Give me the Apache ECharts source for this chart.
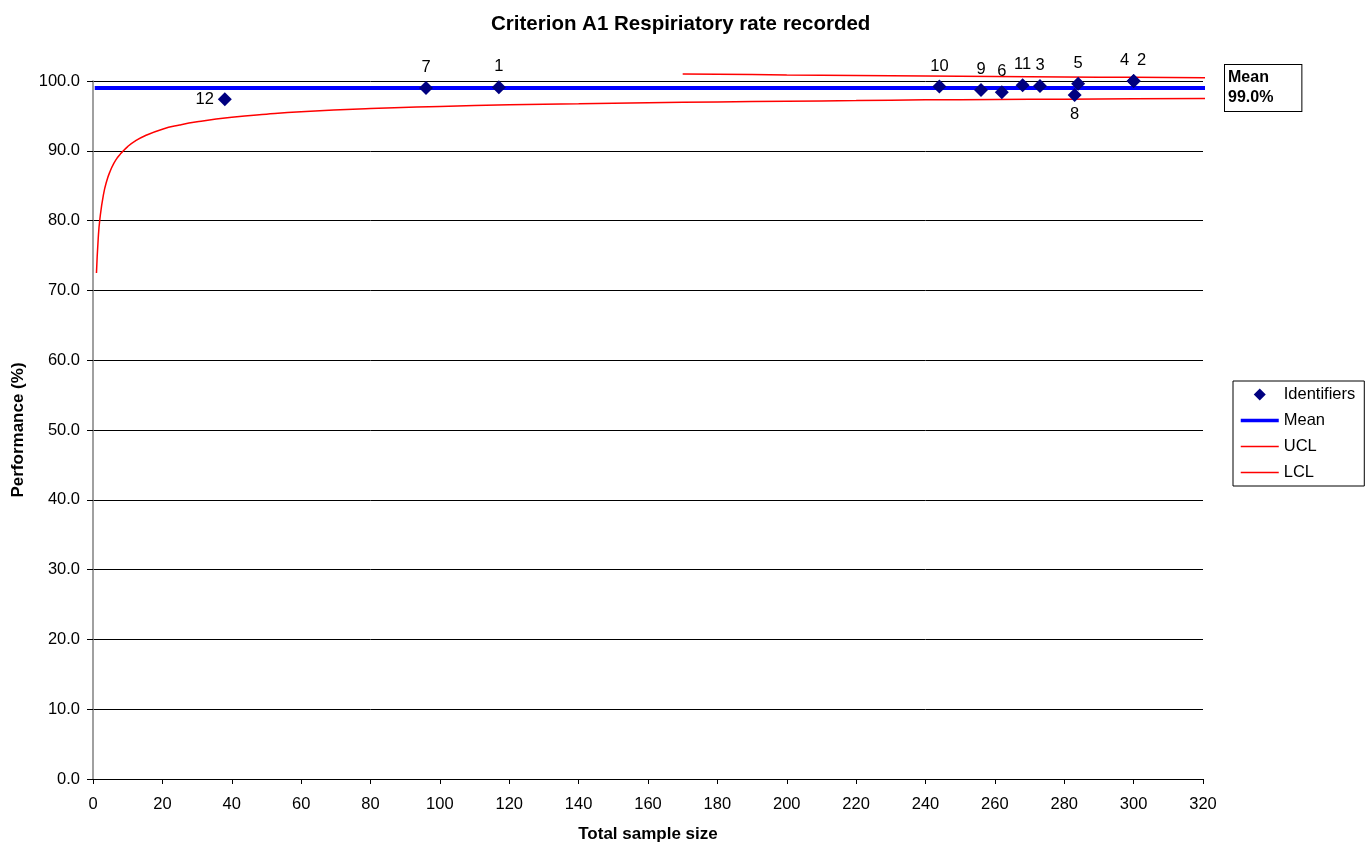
<!DOCTYPE html>
<html><head><meta charset="utf-8">
<script src="https://cdn.jsdelivr.net/npm/echarts@6/dist/echarts.min.js"></script>
<style>html,body{margin:0;padding:0;background:#fff}#c{width:1372px;height:848px}</style>
</head><body><div id="c"></div>
<script>
// Identifier points
const ids  = ['1','2','3','4','5','6','7','8','9','10','11','12'];
const sampleN = [117, 300, 273, 300, 284, 262, 96, 283, 256, 244, 268, 38];
const perf    = [99.1, 100.0, 99.3, 100.0, 99.6, 98.4, 99.0, 98.0, 98.7, 99.2, 99.4, 97.4];
// Mean line
const meanX = [0.5, 322];
const meanY = [99.0, 99.0];
// Lower control limit
const lclX = [1, 1.5, 2, 3, 4, 5, 6, 7, 8, 10, 12, 15, 20, 25, 30, 40, 50, 60, 80, 100, 120, 140, 160, 180, 200, 220, 240, 260, 280, 300, 322];
const lclY = [72.5, 77.4, 80.3, 83.7, 85.75, 87.15, 88.2, 89.0, 89.6, 90.6, 91.35, 92.15, 93.1, 93.7, 94.15, 94.8, 95.25, 95.6, 96.05, 96.35, 96.6, 96.75, 96.9, 97.0, 97.1, 97.2, 97.3, 97.35, 97.4, 97.45, 97.5];
// Upper control limit (visible part only)
const uclX = [170, 180, 200, 220, 240, 260, 280, 300, 322];
const uclY = [101.0, 100.98, 100.87, 100.79, 100.71, 100.64, 100.58, 100.53, 100.48];
// Axis ticks
const xTicks = {min: 0, max: 320, step: 20};
const yTicks = {min: 0, max: 100, step: 10};

const FONT = 'Liberation Sans, Arial, sans-serif';
const FS = 16.5;
const DIAMOND = 'path://M0,-1L1,0L0,1L-1,0Z';
const labelPos = {
  '12': {position: 'left', distance: 4},
  '8': {position: 'bottom', distance: 4},
  '4': {position: 'top', offset: [-9, 0]},
  '2': {position: 'top', offset: [8, 0]}
};
const scatterData = ids.map((id, i) => {
  const lp = labelPos[id] || {position: 'top'};
  return {value: [sampleN[i], perf[i]], name: id,
    label: Object.assign({show: true, formatter: id, color: '#000', fontSize: FS, fontFamily: FONT}, lp)};
});

const chart = echarts.init(document.getElementById('c'));
chart.setOption({
  animation: false,
  backgroundColor: '#fff',
  textStyle: {fontFamily: FONT},
  title: {
    text: 'Criterion A1 Respiriatory rate recorded',
    left: 486, top: 9,
    textStyle: {fontFamily: FONT, fontSize: 20.5, fontWeight: 'bold', color: '#000'}
  },
  grid: {left: 93, right: 169, top: 81, bottom: 68, containLabel: false},
  legend: {
    orient: 'vertical', left: 1233, top: 381,
    padding: [5, 9, 5, 6],
    borderColor: '#000', borderWidth: 1,
    itemWidth: 38, itemHeight: 12, itemGap: 9,
    textStyle: {fontFamily: FONT, fontSize: FS, color: '#000'},
    data: [
      {name: 'Identifiers', icon: DIAMOND},
      {name: 'Mean', itemStyle: {opacity: 0}, lineStyle: {width: 3.5, color: '#0000ff'}},
      {name: 'UCL', itemStyle: {opacity: 0}, lineStyle: {width: 1.5, color: '#ff0000'}},
      {name: 'LCL', itemStyle: {opacity: 0}, lineStyle: {width: 1.5, color: '#ff0000'}}
    ]
  },
  xAxis: {
    type: 'value', min: xTicks.min, max: xTicks.max, interval: xTicks.step,
    name: 'Total sample size', nameLocation: 'middle', nameGap: 47,
    nameTextStyle: {fontFamily: FONT, fontSize: 17, fontWeight: 'bold', color: '#000'},
    axisLine: {show: true, onZero: false, lineStyle: {color: '#000', width: 1}},
    axisTick: {show: true, length: 5, lineStyle: {color: '#000'}},
    axisLabel: {fontFamily: FONT, fontSize: FS, color: '#000', margin: 17},
    splitLine: {show: false}
  },
  yAxis: {
    type: 'value', min: yTicks.min, max: yTicks.max, interval: yTicks.step,
    name: 'Performance (%)', nameLocation: 'middle', nameGap: 66,
    nameTextStyle: {fontFamily: FONT, fontSize: 17, fontWeight: 'bold', color: '#000'},
    axisLine: {show: true, lineStyle: {color: '#808080', width: 1.5}},
    axisTick: {show: true, length: 6, lineStyle: {color: '#000'}},
    axisLabel: {fontFamily: FONT, fontSize: FS, color: '#000', margin: 13,
      formatter: v => v.toFixed(1)},
    splitLine: {show: true, lineStyle: {color: '#000', width: 1}}
  },
  series: [
    {
      name: 'LCL', type: 'line', clip: false, symbol: 'none', smooth: true,
      data: lclX.map((x, i) => [x, lclY[i]]),
      lineStyle: {color: '#ff0000', width: 1.5}, itemStyle: {color: '#ff0000'}, z: 3
    },
    {
      name: 'UCL', type: 'line', clip: false, symbol: 'none', smooth: true,
      data: uclX.map((x, i) => [x, uclY[i]]),
      lineStyle: {color: '#ff0000', width: 1.5}, itemStyle: {color: '#ff0000'}, z: 3
    },
    {
      name: 'Mean', type: 'line', clip: false, symbol: 'none',
      data: meanX.map((x, i) => [x, meanY[i]]),
      lineStyle: {color: '#0000ff', width: 4}, itemStyle: {color: '#0000ff'}, z: 4,
      endLabel: {
        show: true, formatter: 'Mean\n99.0%', distance: 20,
        fontFamily: FONT, fontSize: 16, fontWeight: 'bold', color: '#000',
        lineHeight: 20, align: 'left',
        backgroundColor: '#fff', borderColor: '#000', borderWidth: 1,
        padding: [3, 28, 3, 3]
      }
    },
    {
      name: 'Identifiers', type: 'scatter', symbol: DIAMOND, symbolSize: 14,
      data: scatterData, clip: false,
      itemStyle: {color: '#000080', opacity: 1},
      label: {fontFamily: FONT, fontSize: FS, color: '#000'},
      z: 6
    }
  ]
});
</script></body></html>
